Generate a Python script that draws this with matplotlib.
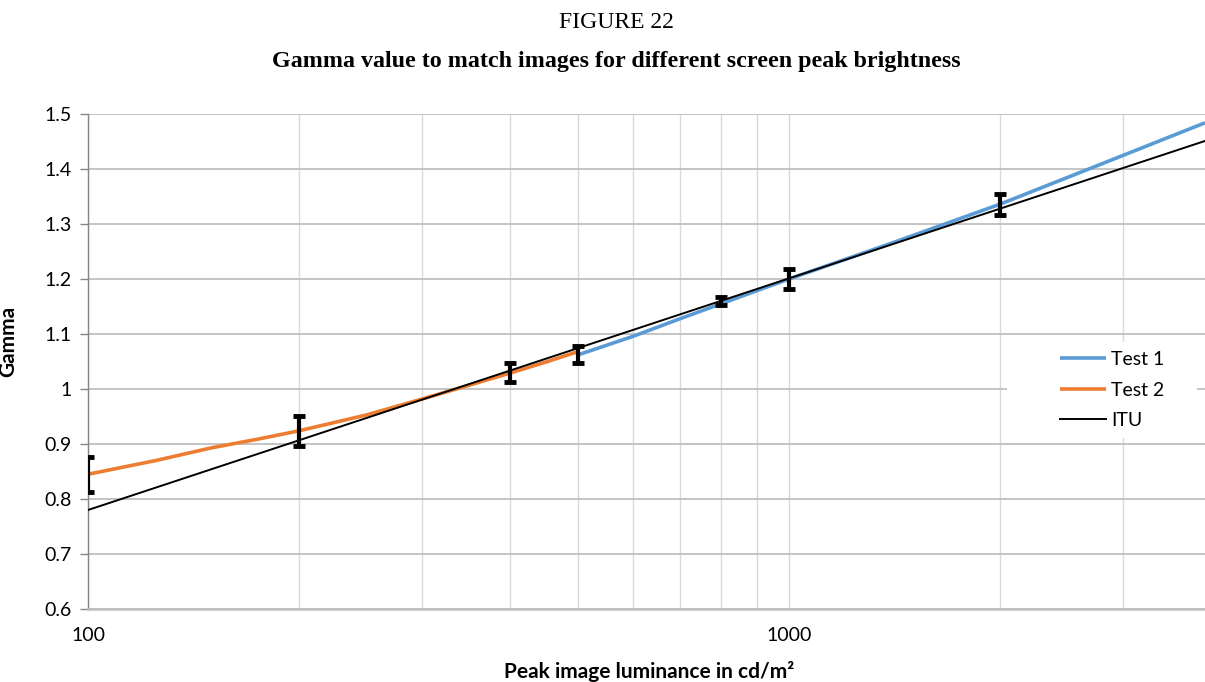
import numpy as np
import matplotlib
matplotlib.use('Agg')
import matplotlib.pyplot as plt
import matplotlib.patches
from matplotlib.ticker import FixedLocator, FuncFormatter, NullFormatter

# Test 1 (blue)
test1_x = [500, 600, 700, 800, 1000, 1400, 2000, 3000, 3922]
test1_y = [1.062, 1.096, 1.128, 1.155, 1.200, 1.265, 1.336, 1.425, 1.484]

# Test 2 (orange)
test2_x = [100, 125, 150, 175, 200, 250, 300, 350, 400, 450, 500]
test2_y = [0.845, 0.870, 0.893, 0.909, 0.924, 0.953, 0.982, 1.007, 1.029, 1.049, 1.068]

# ITU reference line (straight on a log axis)
itu_x = [100, 3922]
itu_y = [0.780, 1.451]

# error bars
err_x = [100, 200, 400, 500, 800, 1000, 2000]
err_y = [0.845, 0.924, 1.030, 1.063, 1.160, 1.200, 1.335]
err_h = [0.032, 0.027, 0.018, 0.015, 0.007, 0.018, 0.019]

x_major = [100, 1000]
x_minor = [200, 300, 400, 500, 600, 700, 800, 900, 2000, 3000]
y_ticks = [0.6, 0.7, 0.8, 0.9, 1.0, 1.1, 1.2, 1.3, 1.4, 1.5]

W, H = 1205, 682
fig = plt.figure(figsize=(W/100, H/100), dpi=100)
ax = fig.add_axes([88/W, 1-609/H, 1117/W, (609-114)/H])

sans = ['Lato', 'DejaVu Sans']
serif = ['Liberation Serif', 'DejaVu Serif']

ax.set_xscale('log')
ax.set_xlim(100, 3922)
ax.set_ylim(0.6, 1.5)
ax.set_axisbelow(True)

ax.xaxis.set_major_locator(FixedLocator(x_major))
ax.xaxis.set_minor_locator(FixedLocator(x_minor))
ax.xaxis.set_major_formatter(FuncFormatter(lambda v, p: '%d' % v))
ax.xaxis.set_minor_formatter(NullFormatter())
ax.yaxis.set_major_locator(FixedLocator(y_ticks))
ax.yaxis.set_major_formatter(FuncFormatter(lambda v, p: '%g' % round(v, 1)))

ax.grid(True, axis='y', which='major', color='#bfbfbf', lw=1.3)
ax.grid(True, axis='x', which='both', color='#d9d9d9', lw=1.0)

for s in ['top', 'right']:
    ax.spines[s].set_visible(False)
ax.spines['left'].set_color('#868686')
ax.spines['left'].set_linewidth(1.0)
ax.spines['bottom'].set_color('#bfbfbf')
ax.spines['bottom'].set_linewidth(1.8)

ax.tick_params(axis='y', which='major', length=6, width=1, color='#868686', pad=6,
               labelsize=14)
ax.tick_params(axis='x', which='both', length=0, pad=13, labelsize=14)
for lab in ax.get_xticklabels() + ax.get_yticklabels():
    lab.set_family(sans)

ax.plot(test1_x, test1_y, color='#5b9bd5', lw=2.6, label='Test 1', zorder=3,
        solid_capstyle='butt')
ax.plot(test2_x, test2_y, color='#ed7d31', lw=2.6, label='Test 2', zorder=3,
        solid_capstyle='butt')
ax.plot(itu_x, itu_y, color='black', lw=1.4, label='ITU', zorder=4)
ax.errorbar(err_x, err_y, yerr=err_h, fmt='none', ecolor='black', elinewidth=3,
            capsize=4, capthick=3.5, zorder=5)

# white box behind the legend hides the gridlines
ax.add_patch(matplotlib.patches.Rectangle((1007/W, 1-438/H), 190/W, 96/H,
             transform=fig.transFigure, facecolor='white', edgecolor='none', zorder=1))

leg = ax.legend(loc='center left', bbox_to_anchor=(1050/W, 1-390/H),
                bbox_transform=fig.transFigure, frameon=False, borderpad=0,
                handlelength=2.4, handletextpad=0.25, labelspacing=0.7,
                prop={'family': sans, 'size': 14})

ax.set_ylabel('Gamma', family=sans, fontsize=15, fontweight='bold')
ax.yaxis.set_label_coords(18/W, 0.5, transform=fig.transFigure)
fig.text(649/W, 1-672/H, 'Peak image luminance in cd/m\u00b2', family=sans,
         fontsize=15, fontweight='bold', ha='center', va='center')

fig.text(616/W, 1-23/H, 'FIGURE 22', family=serif, fontsize=17, ha='center', va='center')
fig.text(616/W, 1-62/H, 'Gamma value to match images for different screen peak brightness',
         family=serif, fontsize=17.3, fontweight='bold', ha='center', va='center')

fig.savefig('out.png', dpi=100)
